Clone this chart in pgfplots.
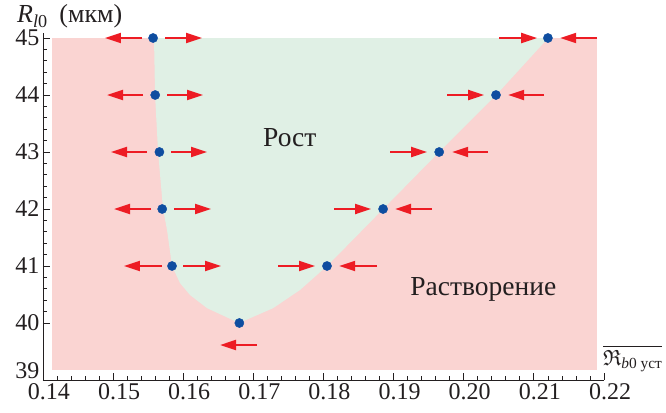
\documentclass[border=0pt]{standalone}
\usepackage{amsmath,amssymb}
\usepackage{fontspec}
\setmainfont{Liberation Serif}
\usepackage{pgfplots}
\pgfplotsset{compat=1.18}
\usetikzlibrary{arrows.meta}
\definecolor{pinkbg}{RGB}{250,212,210}
\definecolor{greenbg}{RGB}{224,240,229}
\definecolor{dotblue}{RGB}{14,77,160}
\definecolor{arrred}{RGB}{237,28,36}
\definecolor{txt}{RGB}{35,31,32}
\begin{document}
\begin{tikzpicture}
\useasboundingbox (-43bp,-33bp) rectangle (623bp,380bp);
\begin{axis}[
  scale only axis, width=561bp, height=347bp,
  xmin=0.14, xmax=0.22, ymin=39, ymax=45.088,
  axis lines=left,
  axis line style={-, line width=0.9bp, color=txt},
  clip=false,
  xtick={0.14,0.15,0.16,0.17,0.18,0.19,0.20,0.21,0.22},
  ytick={40,41,42,43,44,45},
  extra y ticks={39},
  extra y tick style={yticklabel style={yshift=9bp}},
  minor x tick num=4, minor y tick num=4,
  tick align=inside,
  major tick length=7bp, minor tick length=4bp,
  tick style={line width=0.8bp, color=txt},
  scaled x ticks=false,
  /pgf/number format/assume math mode=true,
  ticklabel style={font=\fontsize{24bp}{24bp}\selectfont, text=txt},
  xticklabel style={/pgf/number format/.cd, fixed, fixed zerofill, precision=2, /tikz/.cd, xshift=6bp},
  xlabel={$\overline{\mathfrak{R}_{\text{\itshape b\upshape 0 уст}}}$},
  every axis x label/.style={at={(rel axis cs:1,0)}, anchor=base west, inner sep=0pt, xshift=-1bp, yshift=15bp, font=\fontsize{22bp}{22bp}\selectfont, text=txt},
  ylabel={{\itshape R}\textsubscript{\itshape l\upshape 0}\hspace{0.45em}(мкм)},
  every axis y label/.style={at={(rel axis cs:0,1)}, anchor=base west, inner sep=0pt, xshift=-26bp, yshift=10bp, font=\fontsize{26bp}{26bp}\selectfont, text=txt},
]
% background: dissolution region
\addplot[fill=pinkbg, draw=none] coordinates {
  (0.14128,39.175) (0.21903,39.175) (0.21903,45) (0.14128,45)
};
% growth region
\addplot[fill=greenbg, draw=none] coordinates {
  (0.15583,45.0) (0.15598,44.0) (0.15641,43.0) (0.15712,42.0) (0.15769,41.63)
  (0.15840,41.0) (0.15954,40.70) (0.16097,40.49) (0.16340,40.26) (0.16796,40.0)
  (0.17281,40.26) (0.17666,40.58) (0.18051,41.0) (0.18850,42.0) (0.19649,43.0)
  (0.20462,44.0) (0.21204,45.0)
};
% arrows
\addplot[arrred, line width=2bp, -{Triangle[length=16bp,width=10bp]},
  quiver={u=\thisrow{u}, v=\thisrow{v}}] table {
x y u v
0.15412 45 -0.00528 0
0.15740 45 0.00528 0
0.20505 45 0.00542 0
0.21903 45 -0.00528 0
0.15427 44 -0.00514 0
0.15769 44 0.00513 0
0.19763 44 0.00528 0
0.21147 44 -0.00514 0
0.15484 43 -0.00514 0
0.15826 43 0.00514 0
0.18950 43 0.00528 0
0.20348 43 -0.00513 0
0.15541 42 -0.00528 0
0.15869 42 0.00528 0
0.18151 42 0.00528 0
0.19549 42 -0.00528 0
0.15698 41 -0.00543 0
0.15997 41 0.00542 0
0.17352 41 0.00528 0
0.18765 41 -0.00542 0
0.17053 39.614 -0.00528 0
};
% equilibrium points
\addplot[only marks, mark=*, mark size=4.6bp, color=dotblue] coordinates {
  (0.1557,45) (0.1560,44) (0.1566,43) (0.1570,42) (0.1584,41) (0.1680,40)
  (0.1805,41) (0.1885,42) (0.1965,43) (0.2046,44) (0.2120,45)
};
\node[anchor=base, font=\fontsize{27.5bp}{27.5bp}\selectfont, text=txt] at (axis cs:0.1752,43.105) {Рост};
\node[anchor=base, font=\fontsize{27.5bp}{27.5bp}\selectfont, text=txt] at (axis cs:0.2028,40.474) {Растворение};
\end{axis}
\end{tikzpicture}
\end{document}
